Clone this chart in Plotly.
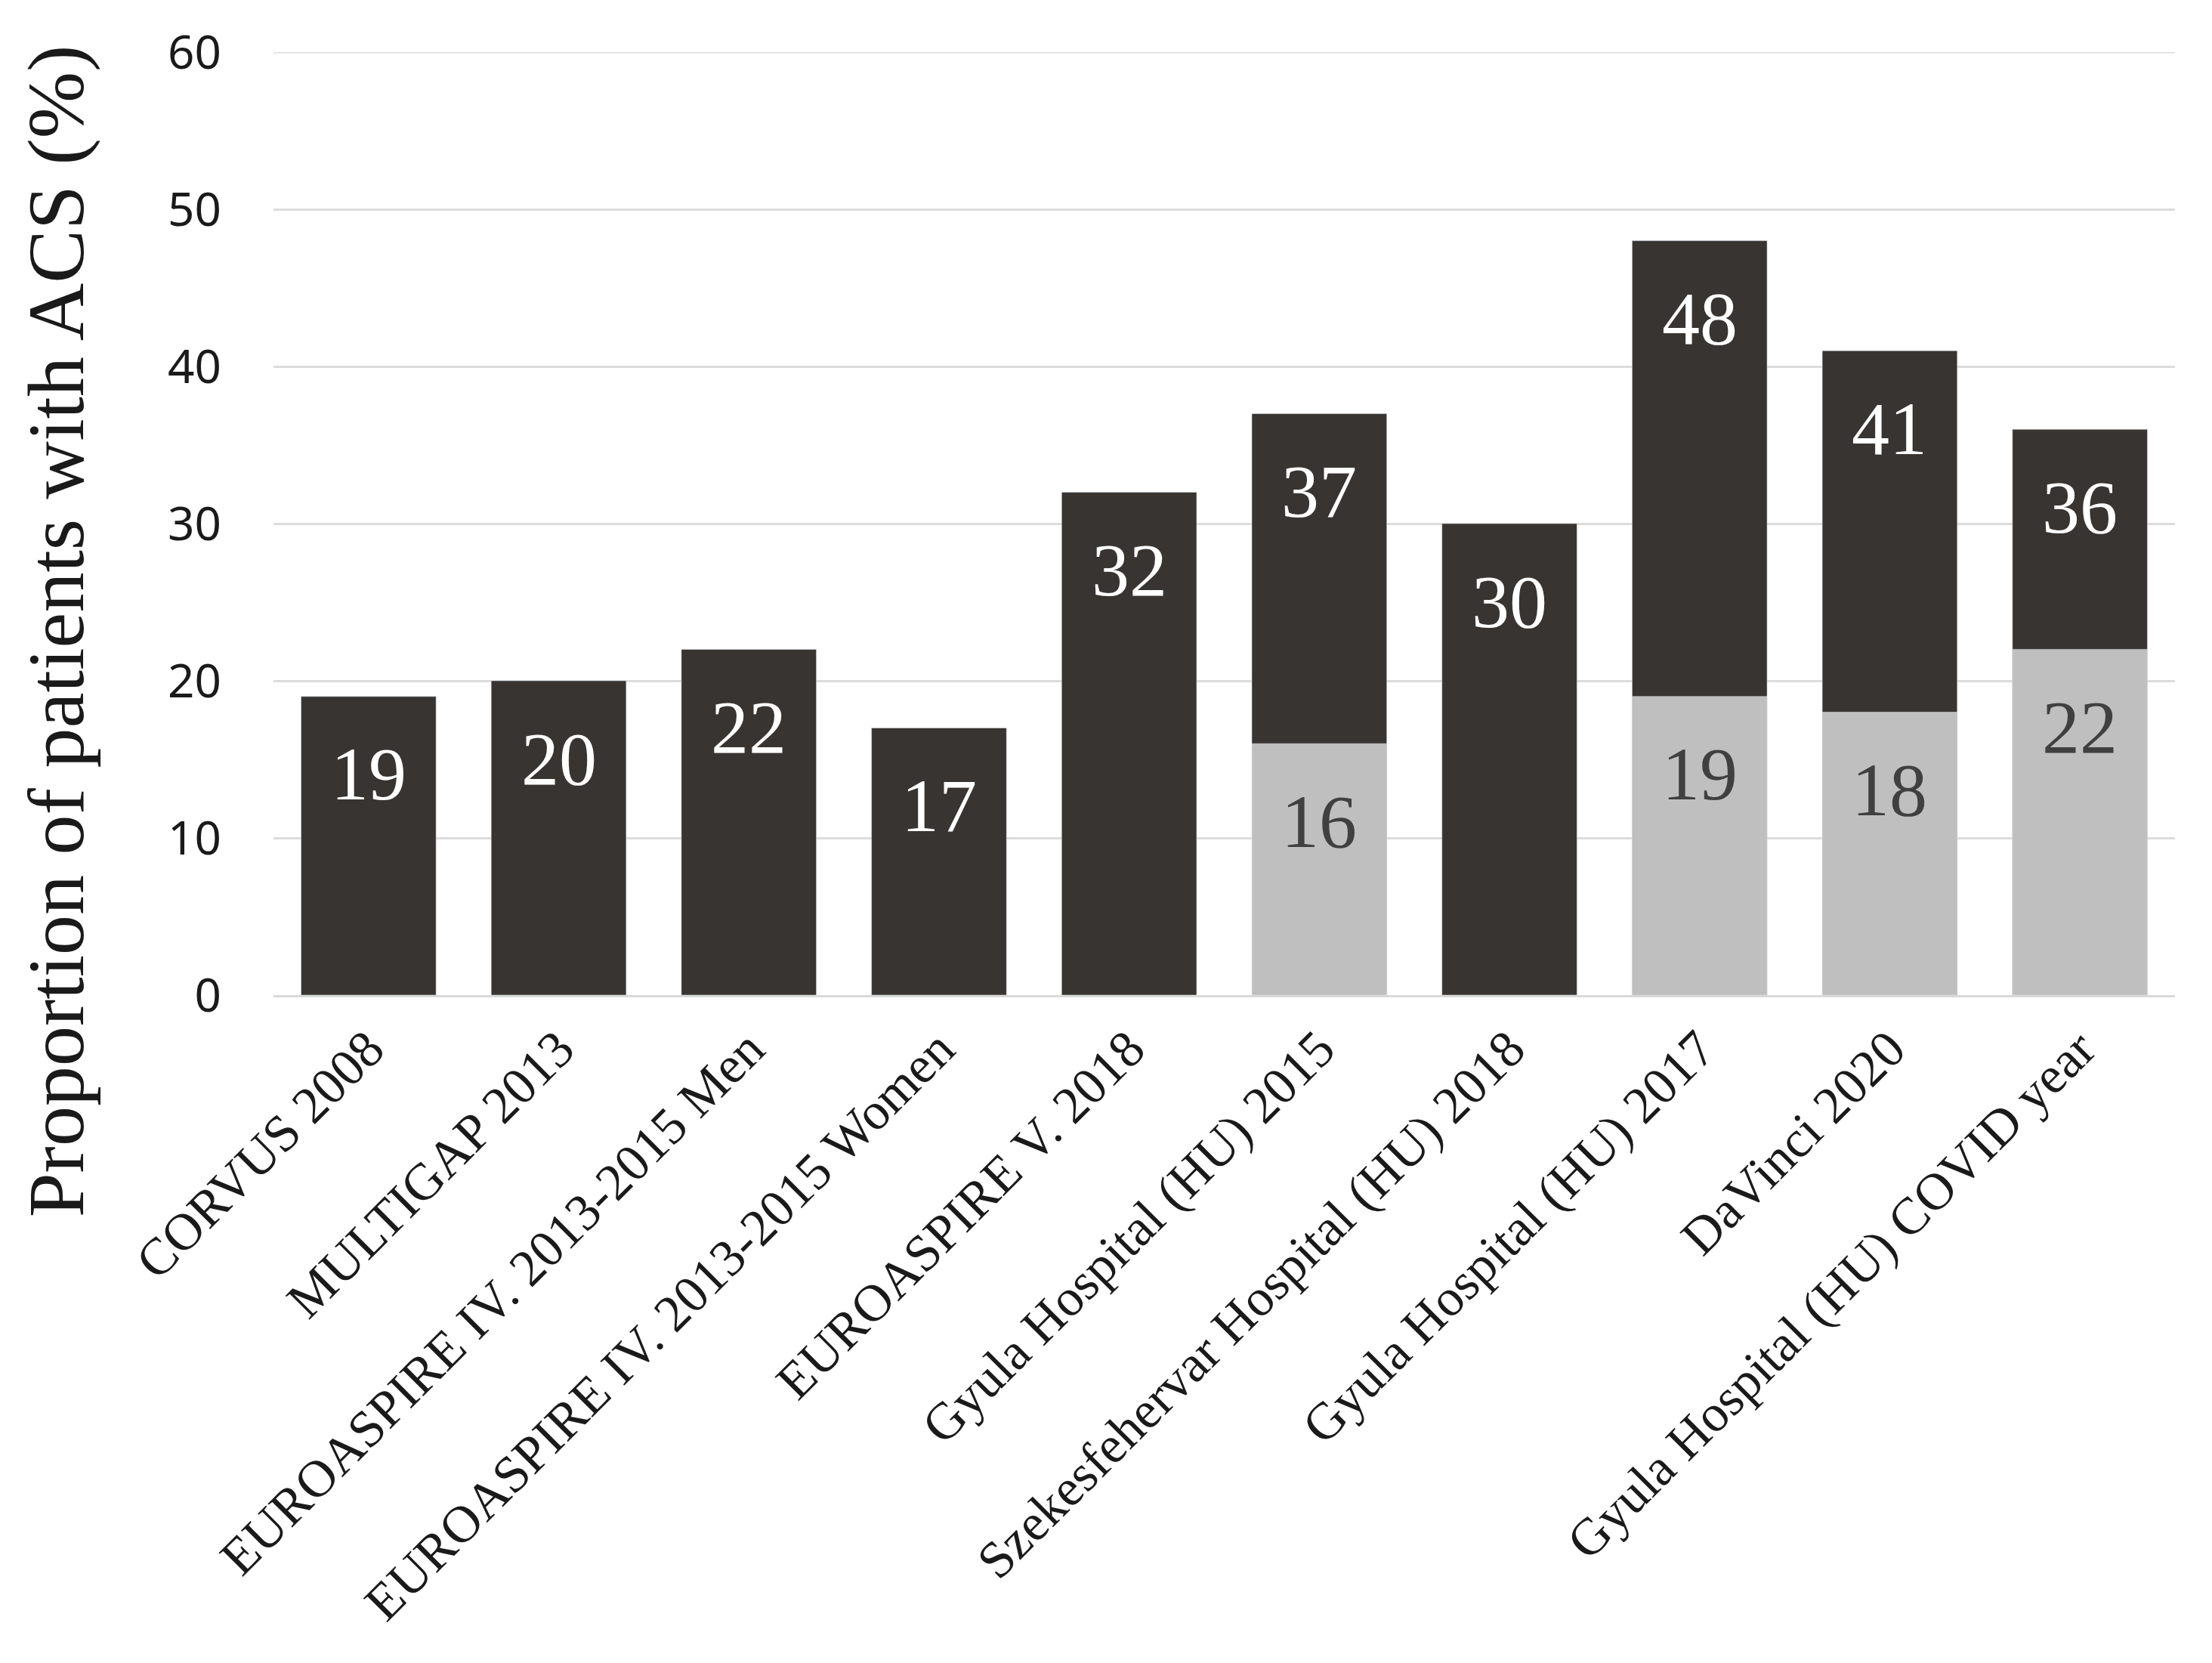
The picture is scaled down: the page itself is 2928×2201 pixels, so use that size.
import plotly.graph_objects as go

categories = [
    "CORVUS 2008",
    "MULTIGAP 2013",
    "EUROASPIRE IV. 2013-2015 Men",
    "EUROASPIRE IV. 2013-2015 Women",
    "EUROASPIRE V. 2018",
    "Gyula Hospital (HU) 2015",
    "Szekesfehervar Hospital (HU) 2018",
    "Gyula Hospital (HU) 2017",
    "DaVinci 2020",
    "Gyula Hospital (HU) COVID year",
]
total_values = [19, 20, 22, 17, 32, 37, 30, 48, 41, 36]
lower_values = [None, None, None, None, None, 16, None, 19, 18, 22]
y_ticks = [0, 10, 20, 30, 40, 50, 60]

DARK = "#383431"
LIGHT = "#bfbfbf"
SERIF = "Liberation Serif"
GRID = "#dcdcdc"

fig = go.Figure()
fig.add_trace(go.Bar(x=categories, y=total_values, marker_color=DARK,
                     width=0.71, hoverinfo="skip"))
fig.add_trace(go.Bar(x=categories, y=lower_values, marker_color=LIGHT,
                     width=0.71, hoverinfo="skip"))

annotations = []
for c, v in zip(categories, total_values):
    annotations.append(dict(x=c, y=v, xref="x", yref="y", text=str(v),
                            showarrow=False, yanchor="middle", yshift=-103,
                            font=dict(family=SERIF, size=100, color="white")))
for c, v in zip(categories, lower_values):
    if v is None:
        continue
    annotations.append(dict(x=c, y=v, xref="x", yref="y", text=str(v),
                            showarrow=False, yanchor="middle", yshift=-103,
                            font=dict(family=SERIF, size=100, color="#404040")))

annotations.append(dict(x=-0.1144, y=0.386, xref="paper", yref="paper",
                        text="Proportion of patients with ACS (%)", textangle=-90,
                        showarrow=False, xanchor="center", yanchor="middle",
                        font=dict(family=SERIF, size=106, color="#1a1a1a")))

fig.update_layout(
    width=2928, height=2201,
    margin=dict(l=354, r=57, t=61, b=892),
    paper_bgcolor="white", plot_bgcolor="white",
    barmode="overlay", showlegend=False,
    annotations=annotations,
    xaxis=dict(tickangle=-45, tickfont=dict(family=SERIF, size=69, color="#1a1a1a"),
               showline=True, linecolor="#d9d9d9", linewidth=3, showgrid=False,
               ticks=""),
    yaxis=dict(range=[0, 60], tickvals=y_ticks, showgrid=True, gridcolor=GRID,
               gridwidth=3, zeroline=False, showline=False,
               tickfont=dict(family="Noto Sans", size=62, color="#1a1a1a"),
               ticklabelstandoff=68),
)
# top gridline at the last tick (Plotly clips gridlines on the range edge)
fig.add_hline(y=y_ticks[-1], line_color=GRID, line_width=3, layer="below")

fig.write_html("out.html")
